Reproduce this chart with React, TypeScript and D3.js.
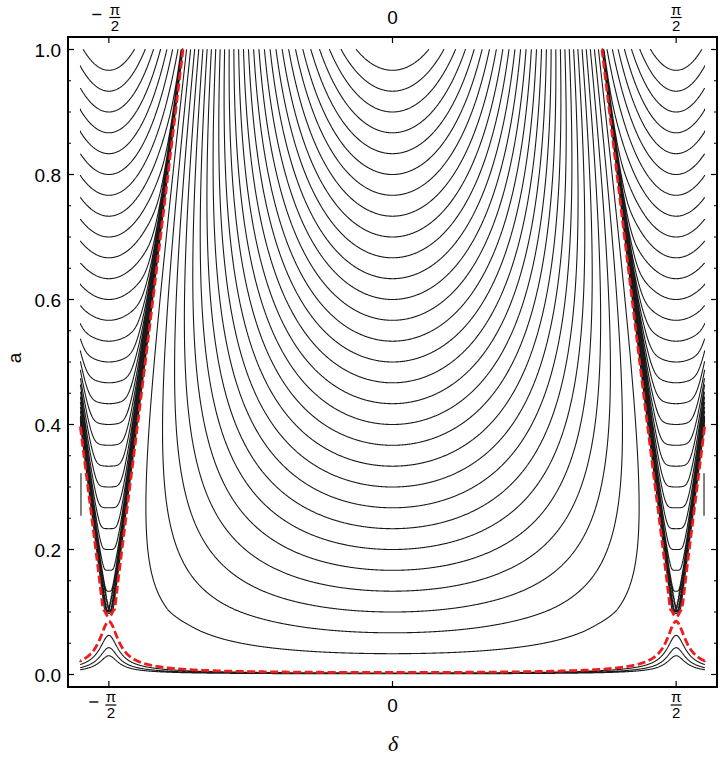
import React, { useMemo } from "react";
import * as d3 from "d3";

const W = 720;
const H = 758;
const HALF_PI = Math.PI / 2;

// ---- data ----
// contour levels (value of the conserved quantity = a at delta = 0, or at delta = ±pi/2 inside the lobes)
const contourLevels = [
  0.0333, 0.0667, 0.1, 0.1333, 0.1667, 0.2, 0.2333, 0.2667, 0.3, 0.3333,
  0.3667, 0.4, 0.4333, 0.4667, 0.5, 0.5333, 0.5667, 0.6, 0.6333, 0.6667,
  0.7, 0.7333, 0.7667, 0.8, 0.8333, 0.8667, 0.9, 0.9333, 0.9667,
];
// small hump contours below the separatrix near delta = ±pi/2
const humpLevels = [0.00116, 0.00166, 0.00242];
// separatrix (red dashed)
const separatrixLevel = [0.00329];
// separatrix geometry: |cos(delta)| on the separatrix as a function of a
const sepKappa = 0.437;
const sepExponent = 0.87;
const sepTipA = [0.088, 0.104]; // start / end of the rise below the lobe tip
const sepDepth = 0.04;
const sepDepthWidth = 0.2;
const cuspRounding = 0.1;
const lobeFloor = 0.12;
const lobeCurvature = 0.3;
const lobeSharpness = [6, 194];
// data range
const deltaRange = [-1.1 * HALF_PI, 1.1 * HALF_PI];
const aRange = [0, 1];
// short stray contour pieces at the left / right edges
const edgePieceDelta = [-1.1 * HALF_PI, 1.1 * HALF_PI];
const edgePieceA = [0.254, 0.322];

// ticks
const deltaTicks = [-HALF_PI, 0, HALF_PI];
const deltaTickKinds = ["-pi2", "0", "pi2"];
const aMajorTicks = [0, 0.2, 0.4, 0.6, 0.8, 1.0];
const aMajorLabels = ["0.0", "0.2", "0.4", "0.6", "0.8", "1.0"];
const aMinorTicks = d3.range(0.05, 1.0, 0.05);

// ---- model field ----
function sepC(a: number): number {
  const a1 = sepTipA[0];
  const a0 = sepTipA[1];
  if (a >= a0) return sepKappa * Math.pow(a - a0, sepExponent);
  if (a <= a1) return -sepDepth;
  const t = (a0 - a) / (a0 - a1);
  return -sepDepth * t * (2 - t);
}
function roundingAt(a: number): number {
  const f = Math.min(Math.max((sepTipA[1] - a) / 0.025, 0), 1);
  return cuspRounding * f;
}
function T(u: number, eps: number): number {
  if (u <= 0 || eps <= 0) return u;
  return (u * u) / Math.sqrt(u * u + eps * eps);
}
function midValue(c: number, s: number, a: number): number {
  const eps = roundingAt(a);
  const ct = T(c, eps);
  const q = c / sepDepthWidth;
  const st = s < 0 ? s * Math.exp(-q * q) : s;
  const t1 = T(1, eps);
  return (a * (ct - st)) / (t1 - st);
}
function midField(delta: number, a: number): number {
  return midValue(Math.abs(Math.cos(delta)), sepC(a), a);
}
function fullField(delta: number, a: number): number {
  const c = Math.abs(Math.cos(delta));
  const s = sepC(a);
  if (c >= s) return midValue(c, s, a);
  const r = c / s;
  const b = lobeCurvature * a * a;
  const m = lobeSharpness[0] + lobeSharpness[1] * Math.pow(a, 6);
  const floor = Math.min(lobeFloor, a);
  return floor + (a - floor) * (1 - b * r * r) * (1 - Math.pow(r, m));
}

const NX = 1100;
const NY = 700;
const gridA = (v: number) => Math.pow(v, 1.5);

function buildLines(
  values: Float64Array,
  levels: number[]
): [number, number][][] {
  const gen = d3.contours().size([NX, NY]).thresholds(levels);
  const out: [number, number][][] = [];
  const isB = (p: number[], q: number[]) =>
    (p[0] === 0 && q[0] === 0) ||
    (p[0] === NX && q[0] === NX) ||
    (p[1] === 0 && q[1] === 0) ||
    (p[1] === NY && q[1] === NY);
  const dd = (deltaRange[1] - deltaRange[0]) / (NX - 1);
  const map = (p: number[]): [number, number] => {
    const u = Math.min(Math.max(p[0] - 0.5, 0), NX - 1);
    const v = Math.min(Math.max(p[1] - 0.5, 0), NY - 1);
    return [deltaRange[0] + u * dd, aRange[0] + (aRange[1] - aRange[0]) * gridA(v / (NY - 1))];
  };
  for (const mp of gen(Array.from(values))) {
    for (const poly of mp.coordinates) {
      for (const ring of poly) {
        const pieces: number[][][] = [];
        let cur: number[][] = [];
        let anyB = false;
        for (let k = 0; k < ring.length - 1; k++) {
          const p = ring[k];
          const q = ring[k + 1];
          if (isB(p, q)) {
            anyB = true;
            if (cur.length > 1) pieces.push(cur);
            cur = [];
          } else {
            if (cur.length === 0) cur.push(p);
            cur.push(q);
          }
        }
        if (cur.length > 1) pieces.push(cur);
        if (
          anyB &&
          pieces.length > 1 &&
          !isB(ring[0], ring[1]) &&
          !isB(ring[ring.length - 2], ring[ring.length - 1])
        ) {
          const last = pieces.pop()!;
          pieces[0] = last.concat(pieces[0].slice(1));
        }
        for (const pc of pieces) out.push(pc.map(map));
      }
    }
  }
  return out;
}

const xScale = d3
  .scaleLinear()
  .domain([deltaRange[0] * 1.04, deltaRange[1] * 1.04])
  .range([68, 717]);
const yScale = d3.scaleLinear().domain([-0.02, 1.02]).range([687, 37]);

function toPath(lines: [number, number][][]): string {
  const parts: string[] = [];
  for (const ln of lines) {
    let s = "";
    for (let i = 0; i < ln.length; i++) {
      s += (i === 0 ? "M" : "L") + xScale(ln[i][0]).toFixed(2) + "," + yScale(ln[i][1]).toFixed(2);
    }
    parts.push(s);
  }
  return parts.join("");
}

const FONT = "'Liberation Sans', Arial, Helvetica, sans-serif";

function PiHalf({
  x,
  barY,
  negative,
  minusDx,
  fracDx,
}: {
  x: number;
  barY: number;
  negative: boolean;
  minusDx: number;
  fracDx: number;
}) {
  const fx = x + fracDx;
  return (
    <g>
      {negative && (
        <line x1={x + minusDx - 4.5} x2={x + minusDx + 4.5} y1={barY - 3} y2={barY - 3} stroke="#000" strokeWidth={1.4} />
      )}
      <text x={fx} y={barY - 3} fontSize={15} fontFamily={FONT} textAnchor="middle">
        π
      </text>
      <line x1={fx - 5.5} x2={fx + 5.5} y1={barY} y2={barY} stroke="#000" strokeWidth={1.2} />
      <text x={fx} y={barY + 13} fontSize={15} fontFamily={FONT} textAnchor="middle">
        2
      </text>
    </g>
  );
}

export default function App() {
  const { blackPath, redPath } = useMemo(() => {
    const vals = new Float64Array(NX * NY);
    const valsRed = new Float64Array(NX * NY);
    const dd = (deltaRange[1] - deltaRange[0]) / (NX - 1);
    for (let j = 0; j < NY; j++) {
      const a = aRange[0] + (aRange[1] - aRange[0]) * gridA(j / (NY - 1));
      for (let i = 0; i < NX; i++) {
        const d = deltaRange[0] + i * dd;
        vals[j * NX + i] = fullField(d, a);
        valsRed[j * NX + i] = midField(d, a);
      }
    }
    const black = buildLines(vals, [...humpLevels, ...contourLevels]);
    const red = buildLines(valsRed, separatrixLevel);
    return { blackPath: toPath(black), redPath: toPath(red) };
  }, []);

  const edgePieces = edgePieceDelta.map((d) =>
    edgePieceA.map((a) => [d, a] as [number, number])
  );
  const edgeLine = d3
    .line<[number, number]>()
    .x((p) => xScale(p[0]) + (p[0] < 0 ? 0.5 : -0.5))
    .y((p) => yScale(p[1]));

  const x0 = 68, x1 = 717, y0 = 37, y1 = 687;

  return (
    <svg width={W} height={H} style={{ display: "block", position: "absolute", left: 0, top: 0 }}>
      <rect x={0} y={0} width={W} height={H} fill="#fff" />
      <path d={blackPath} fill="none" stroke="#1a1a1a" strokeWidth={1.1} strokeLinejoin="round" />
      {edgePieces.map((pc, i) => (
        <path key={i} d={edgeLine(pc) || ""} fill="none" stroke="#1a1a1a" strokeWidth={1.1} />
      ))}
      <path d={redPath} fill="none" stroke="#ee1c1c" strokeWidth={2.8} strokeDasharray="8,3.5" strokeLinejoin="round" />

      {/* frame */}
      <rect x={x0} y={y0} width={x1 - x0} height={y1 - y0} fill="none" stroke="#000" strokeWidth={2} />

      {/* a ticks */}
      {aMajorTicks.map((t) => (
        <g key={"am" + t}>
          <line x1={x0} x2={x0 + 6} y1={yScale(t)} y2={yScale(t)} stroke="#000" strokeWidth={1.2} />
          <line x1={x1} x2={x1 - 6} y1={yScale(t)} y2={yScale(t)} stroke="#000" strokeWidth={1.2} />
        </g>
      ))}
      {aMinorTicks.map((t) => (
        <g key={"an" + t}>
          <line x1={x0} x2={x0 + 3} y1={yScale(t)} y2={yScale(t)} stroke="#000" strokeWidth={1} />
          <line x1={x1} x2={x1 - 3} y1={yScale(t)} y2={yScale(t)} stroke="#000" strokeWidth={1} />
        </g>
      ))}
      {aMajorTicks.map((t, i) => (
        <text key={"al" + t} x={61} y={yScale(t) + 7} fontSize={19} fontFamily={FONT} textAnchor="end">
          {aMajorLabels[i]}
        </text>
      ))}

      {/* delta ticks */}
      {deltaTicks.map((t) => (
        <g key={"dt" + t}>
          <line x1={xScale(t)} x2={xScale(t)} y1={y1} y2={y1 - 6} stroke="#000" strokeWidth={1.2} />
          <line x1={xScale(t)} x2={xScale(t)} y1={y0} y2={y0 + 6} stroke="#000" strokeWidth={1.2} />
        </g>
      ))}
      {deltaTicks.map((t, i) => {
        const k = deltaTickKinds[i];
        const x = xScale(t);
        if (k === "0")
          return (
            <g key={"dl" + i}>
              <text x={x} y={712} fontSize={19} fontFamily={FONT} textAnchor="middle">0</text>
              <text x={x} y={24} fontSize={19} fontFamily={FONT} textAnchor="middle">0</text>
            </g>
          );
        const neg = k === "-pi2";
        return (
          <g key={"dl" + i}>
            <PiHalf x={x} barY={705} negative={neg} minusDx={neg ? -15 : 0} fracDx={neg ? 2 : 0} />
            <PiHalf x={x} barY={17.5} negative={neg} minusDx={neg ? -12 : 0} fracDx={neg ? 6 : 0} />
          </g>
        );
      })}

      {/* axis labels */}
      <text x={393} y={751} fontSize={22} fontFamily="'Liberation Serif', 'DejaVu Serif', serif" fontStyle="italic" textAnchor="middle">
        δ
      </text>
      <text transform="translate(21,358) rotate(-90)" fontSize={19} fontFamily={FONT} textAnchor="middle">
        a
      </text>
    </svg>
  );
}
